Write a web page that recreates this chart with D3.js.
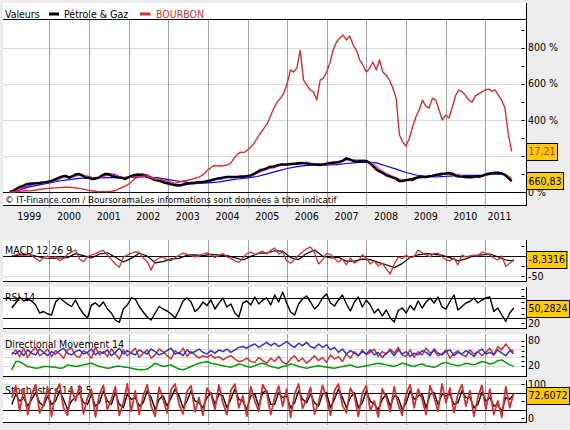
<!DOCTYPE html>
<html>
<head>
<meta charset="utf-8">
<style>
  body { margin:0; background:#ececec; }
  svg { display:block; font-family:"DejaVu Sans Condensed","DejaVu Sans",sans-serif; font-size:10.5px; }
</style>
</head>
<body>
<svg id="chart" width="570" height="430"></svg>
<script src="https://cdn.jsdelivr.net/npm/d3@7"></script>
<script>

// ---- data ----
var years = ["1999","2000","2001","2002","2003","2004","2005","2006","2007","2008","2009","2010","2011"];
var seriesNames = ["Pétrole & Gaz", "BOURBON"];
var panelTitles = ["MACD 12 26 9", "RSI 14", "Directional Movement 14", "Stochastics 14 3 5"];
var boxLabels = ["17,21", "660,83", "-8,3316", "50,2824", "72,6072"];
var copyright = "© IT-Finance.com / BoursoramaLes informations sont données à titre indicatif";

// monthly, Jan 1999 -> Sep 2011, % change
var bourbon = [0,0,3,2,6,8,6,8,11,15, 17,19,20,22,23,24,25,26,26,25,
  22,20,17,13,8,7,4,2,2,2, 3,4,8,17,25,33,44,58,76,83,
  86,89,85,80,70,72,69,63,59,55, 48,53,58,63,65,69,75,80,89,102,
  122,136,147,144,144,147,150,161,188,210, 221,219,233,249,269,299,327,352,377,421,
  465,498,520,548,600,676,664,687,786,620, 592,565,554,509,620,631,664,720,786,831,
  853,869,842,864,814,786,731,703,664,687, 720,676,731,664,648,620,576,520,316,277,
  255,299,360,415,454,509,476,465,520,509, 454,399,426,410,465,532,565,554,537,509,
  498,532,543,554,565,570,559,565,537,509, 465,320,225];

var petrole = [0,6,17,28,33,42,46,47,48,50, 53,55,58,64,72,80,86,89,80,86,
  97,100,91,80,78,72,75,80,91,100, 97,89,83,80,78,72,83,91,94,97,
  94,89,83,75,66,64,58,51,47,42, 39,36,39,44,46,50,51,54,55,57,
  61,65,70,75,78,81,83,83,83,84, 85,86,89,92,100,111,122,125,133,140,
  142,147,152,152,153,155,155,158,161,159, 157,155,153,151,149,153,157,161,162,164,
  168,174,185,180,172,168,171,173,172,162, 144,125,114,105,94,86,80,75,61,61,
  66,69,72,78,83,85,83,87,89,94, 98,101,102,105,102,91,86,85,83,82,
  81,86,87,89,97,101,104,107,105,104, 94,78,61];

// quarterly long average (blue)
var maLong = [0,11,28,39,50,61,69,75,78,78, 80,81,80,83,83,78,69,61,53,48,
  50,55,64,72,78,86,100,116,130,141, 147,149,150,152,158,163,166,161,144,127,
  108,94,86,83,86,91,92,92,94,100, 97];

// every two months (magenta, orange, purple)
var maPink = [0,8,26,40,47,50,55,65,79,85, 88,96,83,75,82,96,91,80,78,89,
  95,89,75,63,52,43,38,43,49,53, 58,65,74,81,83,84,87,94,111,127,
  138,147,152,154,158,159,155,151,153,160, 165,176,179,170,172,159,128,104,87,72,
  63,69,78,84,86,94,100,103,93,85, 82,85,91,101,105,101,78];
var maOrange = [0,12,30,44,48,52,57,70,84,84, 92,94,80,76,88,98,88,80,76,92,
  96,87,72,60,48,41,38,45,51,55, 60,68,76,82,83,85,89,98,118,133,
  141,150,152,155,160,158,153,150,155,161, 168,180,176,170,170,150,118,98,82,66,
  64,72,80,85,87,96,101,104,90,84, 81,86,92,103,105,98,70];
var maPurple = [0,4,22,36,50,46,60,62,86,80, 100,90,86,70,92,102,95,78,82,84,
  99,92,70,66,50,44,34,46,46,57, 56,70,72,86,80,88,84,102,116,132,
  136,152,150,158,156,164,152,156,148,166, 162,190,176,176,166,146,118,92,82,58,
  66,64,82,80,92,90,104,98,96,80, 86,80,96,100,110,96,58];

// indicators, 127 evenly spaced samples
var macd = [0,3,7,0,4,2,-6,-14,-3,0, -5,-2,-12,-6,4,10,15,-8,-14,-2,
  3,6,11,14,2,-9,-20,-28,-3,2, 7,10,9,-5,-14,-35,-12,-5,-2,-10,
  -12,-4,2,7,4,1,-2,0,5,8, 3,-4,2,6,-2,-6,-12,-16,-5,6,
  10,4,8,12,5,14,20,5,10,-12, -18,-8,2,10,18,22,8,-20,-10,6,
  4,-6,-15,-8,-22,-5,-18,-12,3,-6, -20,-12,-25,-18,-32,-45,-20,-3,-6,2,
  -4,-2,15,8,3,-2,6,7,-2,-10, -12,-5,-22,2,-2,0,2,0,10,7,
  2,-5,-10,0,-26,-18,-8];
var macdSignal = [0,3,4,0,-5,-6,-5,-4,6,1, -5,5,8,-3,-15,-6,7,0,-17,-14,
  -7,-6,2,3,1,4,2,1,-4,-10, -1,7,7,13,12,-4,-9,6,15,0,
  -5,-3,-13,-13,-8,-9,-16,-22,-29,-19, -3,3,6,4,2,-4,-12,-7,1,3,
  5,-2,-10,-13];

var rsi = [50,60,72,64,68,64,56,40,43,38, 36,62,70,64,58,53,66,50,38,30,
  56,60,53,62,48,40,26,21,48,56, 70,68,53,42,32,26,40,53,48,44,
  38,30,46,64,70,62,43,50,62,55, 66,48,60,70,52,58,40,32,60,64,
  56,72,58,66,70,56,76,62,82,60, 42,36,58,68,74,62,48,56,70,78,
  60,54,66,76,58,44,62,72,52,66, 56,40,48,34,46,30,22,45,50,40,
  55,46,64,50,62,70,60,72,52,48, 63,76,46,53,60,63,70,60,66,70,
  72,43,50,36,23,40,50];

var diBlue = [52,48,56,44,58,50,46,60,52,44, 54,48,56,62,50,46,54,58,48,52,
  60,46,54,50,58,44,52,62,48,56, 50,46,58,52,48,60,54,46,50,56,
  62,48,52,44,58,50,54,60,52,48, 56,50,58,54,60,52,58,64,66,62,
  68,72,64,70,76,68,74,66,72,78, 70,64,74,68,76,66,62,72,64,70,
  58,64,52,60,48,56,50,44,54,48, 58,46,52,40,50,56,44,58,48,54,
  42,50,46,56,52,44,60,50,46,54, 58,44,52,48,56,50,42,54,60,48,
  52,46,58,50,44,56,48];
var diRed = [46,58,42,62,40,54,64,44,50,60, 42,56,48,38,58,62,44,40,56,50,
  38,64,46,54,42,60,48,36,58,44, 52,62,40,50,58,38,46,60,54,44,
  36,56,48,62,42,54,46,38,44,40, 46,38,42,34,40,44,36,30,32,38,
  30,28,40,32,26,38,30,42,28,24, 36,44,30,38,26,34,44,32,40,28,
  46,36,42,30,48,38,54,44,58,46, 52,60,42,54,48,60,50,64,46,42,
  58,40,54,46,62,50,56,44,48,58, 38,50,56,46,42,58,48,54,44,52,
  62,46,66,58,72,60,54];
var adx = [10,30,30,24,18,16,14,15,18,18, 17,16,14,15,22,20,18,20,22,24,
  26,22,18,16,14,15,18,19,17,16, 14,12,10,10,12,18,26,22,18,20,
  22,16,12,10,14,18,22,26,28,30, 26,24,22,20,18,16,20,24,22,18,
  16,20,24,26,22,18,16,14,18,20, 24,22,18,16,14,16,18,20,18,16,
  15,14,16,18,20,22,18,16,18,20, 22,24,26,24,22,20,18,22,26,24,
  20,18,22,24,20,18,16,20,26,28, 24,22,20,22,26,24,22,26,30,28,
  24,26,32,34,28,22,19];

var stochK = [60,95,20,85,10,70,98,15,40,90, 5,75,100,30,8,88,50,95,12,60,
  85,3,70,96,25,55,92,8,45,100, 20,80,10,65,98,35,5,90,55,15,
  85,100,40,12,78,95,18,60,8,88, 70,25,97,45,10,82,100,30,65,5,
  92,50,20,98,75,10,60,94,35,85, 2,70,100,28,55,90,12,45,96,60,
  8,80,100,38,15,88,65,5,74,95, 22,50,3,86,60,18,92,40,8,70,
  98,30,85,55,10,95,62,20,100,45, 88,15,70,98,35,80,5,60,96,25,
  85,10,50,2,92,30,73];
var stochD = [40,70,50,60,35,55,75,45,35,65, 40,50,80,55,25,50,60,75,45,40,
  70,35,45,80,50,40,75,40,30,70, 55,60,35,45,80,60,25,55,65,35,
  60,85,65,30,50,80,50,45,30,60, 75,40,70,65,30,55,85,55,50,25,
  65,70,35,75,80,40,40,75,60,65, 30,45,80,55,45,70,45,35,70,75,
  30,55,85,60,30,60,75,30,45,80, 50,40,25,55,70,35,65,60,25,45,
  80,55,65,70,30,70,75,40,70,65, 70,40,45,80,60,60,30,40,75,50,
  60,35,40,20,60,55,70];

// ---- dates ----
var monthStart = new Date(1999, 0, 1);
function monthDate(i) { return d3.timeMonth.offset(monthStart, i); }
var indStart = new Date(1999, 0, 20), indEnd = new Date(2011, 8, 20);
function indDate(i) { return new Date(+indStart + i * (indEnd - indStart) / (rsi.length - 1)); }

var svg = d3.select("#chart");
var left = 3, right = 526;

var x = d3.scaleTime()
    .domain([new Date(2000, 0, 1), new Date(2011, 0, 1)])
    .range([49.3, 485.3]);

var yMain  = d3.scaleLinear().domain([0, 900]).range([192, 29.5]);
var yMacd  = d3.scaleLinear().domain([-50, 0]).range([276, 256]);
var yRsi   = d3.scaleLinear().domain([30, 70]).range([318, 298]);
var yDm    = d3.scaleLinear().domain([20, 80]).range([365.7, 340.7]);
var yStoch = d3.scaleLinear().domain([0, 100]).range([418, 384]);

var yearLines = d3.timeYear.range(new Date(2000, 0, 1), new Date(2011, 1, 1));

// panel boxes (labels hidden behind the value boxes are left out)
var panels = [
  {top: 3,   gridTop: 19,  bottom: 205, y: yMain,  ticks: d3.range(0, 901, 100), labels: [0, 400, 600, 800], fmt: function(d){ return d + " %"; },
   black: [0], gray: [200, 400, 600, 800]},
  {top: 240, gridTop: 240, bottom: 281, y: yMacd,  ticks: [25, 0, -25, -50], labels: [-50], black: [0], gray: [-50]},
  {top: 287, gridTop: 287, bottom: 328, y: yRsi,   ticks: [87.5, 75, 62.5, 50, 37.5, 20], labels: [20], black: [70, 30], gray: []},
  {top: 334, gridTop: 334, bottom: 376, y: yDm,    ticks: d3.range(20, 81, 12), labels: [80, 20], black: [], gray: [80, 60, 40, 20]},
  {top: 380, gridTop: 380, bottom: 422, y: yStoch, ticks: [0, 25, 50, 75, 100], labels: [100, 0], black: [75, 25], gray: [100]}
];

panels.forEach(function(p, n) {
  var g = svg.append("g");
  g.append("rect").attr("x", left).attr("y", p.top).attr("width", right - left).attr("height", p.bottom - p.top).attr("fill", "#fff");

  svg.append("clipPath").attr("id", "clip" + n).append("rect")
    .attr("x", left).attr("y", p.gridTop).attr("width", right - left).attr("height", p.bottom - p.gridTop);
  svg.append("clipPath").attr("id", "lab" + n).append("rect")
    .attr("x", right).attr("y", p.top).attr("width", 50).attr("height", p.bottom - p.top + 3);
  p.g = g;

  g.selectAll(".hg").data(p.gray).enter().append("line")
    .attr("x1", left).attr("x2", right)
    .attr("y1", function(d){ return Math.round(p.y(d)) + 0.5; }).attr("y2", function(d){ return Math.round(p.y(d)) + 0.5; })
    .attr("stroke", "#dcdcdc");

  g.selectAll(".vg").data(yearLines).enter().append("line")
    .attr("x1", function(d){ return Math.round(x(d)) + 0.5; }).attr("x2", function(d){ return Math.round(x(d)) + 0.5; })
    .attr("y1", p.gridTop).attr("y2", p.bottom + 3)
    .attr("stroke", "#a0a0a0");

  g.selectAll(".bl").data(p.black).enter().append("line")
    .attr("x1", left).attr("x2", right)
    .attr("y1", function(d){ return Math.round(p.y(d)) + 0.5; }).attr("y2", function(d){ return Math.round(p.y(d)) + 0.5; })
    .attr("stroke", "#000");

  // right ticks
  g.selectAll(".tk").data(p.ticks).enter().append("line")
    .attr("x1", right - 4.5).attr("x2", right - 1.5)
    .attr("y1", function(d){ return Math.round(p.y(d)) + 0.5; }).attr("y2", function(d){ return Math.round(p.y(d)) + 0.5; })
    .attr("stroke", "#000");

  // right labels
  svg.append("g").attr("clip-path", "url(#lab" + n + ")")
    .selectAll("text").data(p.labels).enter().append("text")
    .attr("x", right + 2).attr("y", function(d){ return p.y(d); }).attr("dy", "0.36em")
    .text(function(d){ return p.fmt ? p.fmt(d) : d; });

  // axes lines
  g.append("line").attr("x1", left).attr("x2", right).attr("y1", p.bottom + 0.5).attr("y2", p.bottom + 0.5).attr("stroke", "#000");
  g.append("line").attr("x1", right + 0.5).attr("x2", right + 0.5).attr("y1", p.top).attr("y2", p.bottom + 1).attr("stroke", "#000");
});

// main panel extras
var main = panels[0].g;
main.append("line").attr("x1", left).attr("x2", right).attr("y1", 19.5).attr("y2", 19.5).attr("stroke", "#000");
main.append("text").attr("x", 5).attr("y", 17.5).text("Valeurs");
main.append("rect").attr("x", 49).attr("y", 12.5).attr("width", 10).attr("height", 3).attr("fill", "#000");
main.append("text").attr("x", 64).attr("y", 17.5).text(seriesNames[0]);
main.append("rect").attr("x", 140).attr("y", 12.5).attr("width", 10.5).attr("height", 3).attr("fill", "#cc3333");
main.append("text").attr("x", 156).attr("y", 17.5).attr("fill", "#cc3333").text(seriesNames[1]);
main.append("text").attr("x", 5).attr("y", 202.5).style("font-size", "9.5px").text(copyright);

// year labels
svg.append("g").selectAll("text").data(years).enter().append("text")
  .attr("text-anchor", "middle").attr("y", 220)
  .attr("x", function(d) {
    var yr = +d;
    if (yr === 2011) return (x(new Date(2011, 0, 1)) + x(monthDate(bourbon.length - 1))) / 2 + 1;
    return x(new Date(yr, 6, 1));
  })
  .text(function(d){ return d; });

// indicator titles
[panels[1], panels[2], panels[3], panels[4]].forEach(function(p, n) {
  p.g.append("text").attr("x", 5).attr("y", p.top + 14).text(panelTitles[n]);
});

function drawLine(n, data, dateFn, y, color, width) {
  panels[n].g.append("path").datum(data)
    .attr("clip-path", "url(#clip" + n + ")")
    .attr("fill", "none").attr("stroke", color).attr("stroke-width", width).attr("stroke-linejoin", "round")
    .attr("d", d3.line().x(function(d, i){ return x(dateFn(i)); }).y(function(d){ return y(d); }));
}

// main lines
drawLine(0, maLong, function(i){ return monthDate(3 * i); }, yMain, "#0000ff", 1.2);
drawLine(0, maPurple, function(i){ return monthDate(2 * i); }, yMain, "#9900cc", 1.6);
drawLine(0, maPink, function(i){ return monthDate(2 * i); }, yMain, "#ff33ff", 1.2);
drawLine(0, maOrange, function(i){ return monthDate(2 * i); }, yMain, "#ff9900", 1.2);
drawLine(0, petrole, monthDate, yMain, "#000", 2.4);
drawLine(0, bourbon, monthDate, yMain, "#cc3333", 1.4);

// indicators
drawLine(1, macdSignal, function(k){ return indDate(2 * k); }, yMacd, "#000", 1.2);
drawLine(1, macd, indDate, yMacd, "#cc3333", 1.3);
drawLine(2, rsi, indDate, yRsi, "#000", 1.4);
drawLine(3, adx, indDate, yDm, "#009900", 1.5);
drawLine(3, diRed, indDate, yDm, "#cc3333", 1.5);
drawLine(3, diBlue, indDate, yDm, "#3333cc", 1.5);
drawLine(4, stochD, indDate, yStoch, "#000", 1.4);
drawLine(4, stochK, indDate, yStoch, "#cc3333", 1.8);

// value boxes
var boxes = [
  {y: yMain(bourbon[bourbon.length - 1]), color: "#cc3333"},
  {y: yMain(petrole[petrole.length - 1]), color: "#000"},
  {y: yMacd(macd[macd.length - 1]), color: "#000"},
  {y: yRsi(rsi[rsi.length - 1]), color: "#000"},
  {y: yStoch(stochK[stochK.length - 1]) + 2, color: "#000"}
];
boxes.forEach(function(b, n) {
  var bg = svg.append("g");
  var r = bg.append("rect").attr("x", right + 0.5).attr("y", Math.round(b.y - 8.5) + 0.5).attr("height", 17)
    .attr("fill", "#ffcc00").attr("stroke", "#000");
  var t = bg.append("text").attr("x", right + 2.5).attr("y", b.y).attr("dy", "0.36em")
    .attr("fill", b.color).style("font-size", "10.5px").text(boxLabels[n]);
  r.attr("width", Math.min(t.node().getComputedTextLength() + 4, 569.5 - right - 0.5));
});

</script>
</body>
</html>
